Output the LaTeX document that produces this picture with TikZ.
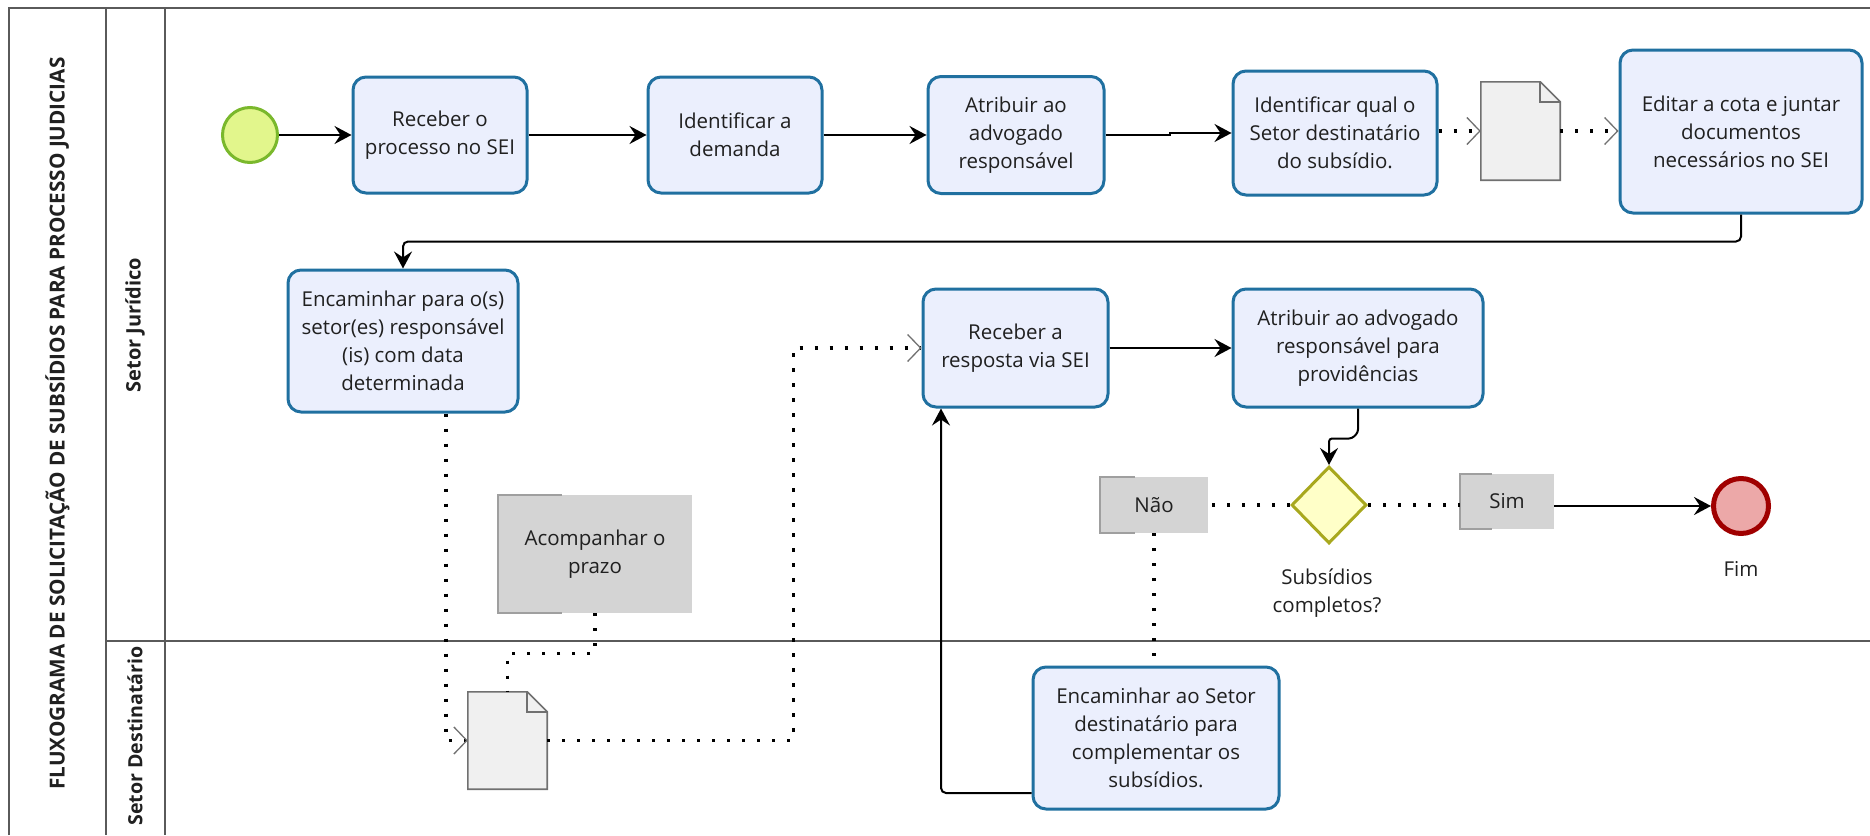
\documentclass[tikz,border=0pt]{standalone}
\usepackage{fontspec}
\setmainfont{Open Sans}
\usetikzlibrary{arrows.meta,calc,shapes.geometric}
\definecolor{taskborder}{HTML}{2070A0}
\definecolor{taskfill}{HTML}{EBEFFD}
\definecolor{txt}{HTML}{202020}
\definecolor{annfill}{HTML}{D4D4D4}
\definecolor{poolline}{HTML}{5A5A5A}
\definecolor{startfill}{HTML}{E2F68C}
\definecolor{startline}{HTML}{7AB82C}
\definecolor{gwfill}{HTML}{FFFFC8}
\definecolor{gwline}{HTML}{A8A81E}
\definecolor{endfill}{HTML}{ECA8A8}
\definecolor{endline}{HTML}{A00000}
\definecolor{docfill}{HTML}{F0F0F0}
\definecolor{docline}{HTML}{707070}
\tikzset{
  txtfont/.style={font=\fontsize{20.5}{28}\selectfont, text=txt, align=center},
  task/.style={txtfont, draw=taskborder, fill=taskfill, line width=3pt, rounded corners=13pt, inner sep=0pt, anchor=center},
  annot/.style={txtfont, fill=annfill, inner sep=0pt},
  docbox/.style={inner sep=0pt},
  flow/.style={draw=black, line width=2pt, -{Stealth[length=17pt,width=18pt,inset=6pt]}},
  msg/.style={draw=black, line width=3.2pt, dash pattern=on 3.2pt off 11.8pt, -{Straight Barb[length=13pt,width=27pt,line width=1.3pt,color=docline]}},
  assoc/.style={draw=black, line width=3.2pt, dash pattern=on 3.2pt off 11.8pt},
  bracketline/.style={draw=gray!75, line width=1.6pt},
  poolstyle/.style={draw=poolline, line width=2pt},
  lanelabel/.style={font=\bfseries\fontsize{20}{24}\selectfont, text=txt, rotate=90}
}
\begin{document}
\begin{tikzpicture}[x=1pt,y=-1pt]
\useasboundingbox (0,0) rectangle (1870,835);
% pool
\draw[poolstyle] (9,835) -- (9,8) -- (1870,8);
\draw[poolstyle] (106,8) -- (106,835);
\draw[poolstyle] (165,8) -- (165,835);
\draw[poolstyle] (106,641) -- (1870,641);
\node[font=\bfseries\fontsize{20.7}{24}\selectfont, text=txt, rotate=90] (title) at (57.5,423.5) {FLUXOGRAMA DE SOLICITAÇÃO DE SUBSÍDIOS PARA PROCESSO JUDICIAS};
\node[lanelabel] (lane1) at (135,325) {Setor Jurídico};
\node[lanelabel, font=\bfseries\fontsize{19.6}{24}\selectfont] (lane2) at (135,736) {Setor Destinatário};

% events
\node[circle, draw=startline, fill=startfill, line width=3pt, minimum size=55pt, inner sep=0pt] (start) at (250,135) {};
\node[circle, draw=endline, fill=endfill, line width=5pt, minimum size=55pt, inner sep=0pt] (fim) at (1741,506) {};
\node[txtfont] (fimlbl) at (1741,569) {Fim};

% tasks
\node[task, minimum width=174pt, minimum height=116pt] (rec1) at (440,135) {Receber o\\processo no SEI};
\node[task, minimum width=174pt, minimum height=116pt] (idem) at (735,135) {Identificar a\\demanda};
\node[task, minimum width=176pt, minimum height=117pt] (atrib) at (1016,135) {Atribuir ao\\advogado\\responsável};
\node[task, minimum width=204pt, minimum height=124pt] (ident) at (1335,133) {Identificar qual o\\Setor destinatário\\do subsídio.};
\node[task, minimum width=242pt, minimum height=163pt] (edit) at (1741,131.5) {Editar a cota e juntar\\documentos\\necessários no SEI};
\node[task, minimum width=230pt, minimum height=142pt] (enc1) at (403,341) {Encaminhar para o(s)\\setor(es) responsável\\(is) com data\\determinada};
\node[task, minimum width=185pt, minimum height=118pt] (recresp) at (1015.5,348) {Receber a\\resposta via SEI};
\node[task, minimum width=250pt, minimum height=118pt] (atrib2) at (1358,348) {Atribuir ao advogado\\responsável para\\providências};
\node[task, minimum width=246pt, minimum height=142pt] (enc2) at (1156,738) {Encaminhar ao Setor\\destinatário para\\complementar os\\subsídios.};

% gateway
\node[diamond, draw=gwline, fill=gwfill, line width=3pt, minimum width=75pt, minimum height=77pt, inner sep=0pt] (dia) at (1329,505) {};
\node[txtfont] (dialbl) at (1327,593) {Subsídios\\completos?};

% annotations
\node[annot, minimum width=108pt, minimum height=56pt] (nao) at (1154,505) {Não};
\draw[bracketline] ($(nao.north west)+(35,0)$) -- (nao.north west) -- (nao.south west) -- ++(35,0);
\node[annot, minimum width=94pt, minimum height=55pt] (sim) at (1507,501.5) {Sim};
\draw[bracketline] ($(sim.north west)+(32,0)$) -- (sim.north west) -- (sim.south west) -- ++(32,0);
\node[annot, minimum width=194pt, minimum height=118pt] (acomp) at (595,554) {Acompanhar o\\prazo};
\draw[bracketline] ($(acomp.north west)+(64,0)$) -- (acomp.north west) -- (acomp.south west) -- ++(64,0);

% documents
\node[docbox, minimum width=79pt, minimum height=98pt] (doc1) at (1520.5,131) {};
\node[docbox, minimum width=79pt, minimum height=97pt] (doc2) at (507.5,740.5) {};
\foreach \d in {doc1,doc2}{
  \draw[draw=docline, fill=docfill, line width=1.6pt] (\d.south west) -- (\d.north west) -- ($(\d.north east)+(-20,0)$) -- ($(\d.north east)+(0,20)$) -- (\d.south east) -- cycle;
  \draw[draw=docline, line width=1.6pt] ($(\d.north east)+(-20,0)$) -- ($(\d.north east)+(-20,20)$) -- ($(\d.north east)+(0,20)$);
}

% sequence flows
\draw[flow] (start.east) -- (rec1.west);
\draw[flow] (rec1.east) -- (idem.west);
\draw[flow] (idem.east) -- (atrib.west);
\draw[flow] (atrib.east) -- ++(64,0) -- ++(0,-2) -- (ident.west);
\draw[flow, rounded corners=5pt] (edit.south) -- ++(0,27) -| (enc1.north);
\draw[flow] (recresp.east) -- (atrib2.west);
\draw[flow, rounded corners=3pt] (atrib2.south) -- ++(0,24) -- ++(-6,6) -| (dia.north);
\draw[flow] (sim.east |- fim.west) -- (fim.west);
\draw[flow, rounded corners=5pt] ($(enc2.west)+(0,55)$) -| ($(recresp.south)+(-74.5,0)$);

% message flows
\draw[msg] (ident.east |- doc1.west) -- (doc1.west);
\draw[msg] (doc1.east) -- (edit.west |- doc1.east);
\draw[msg] ($(enc1.south)+(43,0)$) |- (doc2.west);
\draw[msg] (doc2.east) -- ($(doc2.east)+(246,0)$) |- (recresp.west);

% associations
\draw[assoc] (acomp.south) -- ++(0,40) -| (doc2.north);
\draw[assoc] (dia.west) -- (nao.east);
\draw[assoc] (dia.east) -- (sim.west |- dia.east);
\draw[assoc] (nao.south) -- (nao.south |- enc2.north);
\end{tikzpicture}
\end{document}
